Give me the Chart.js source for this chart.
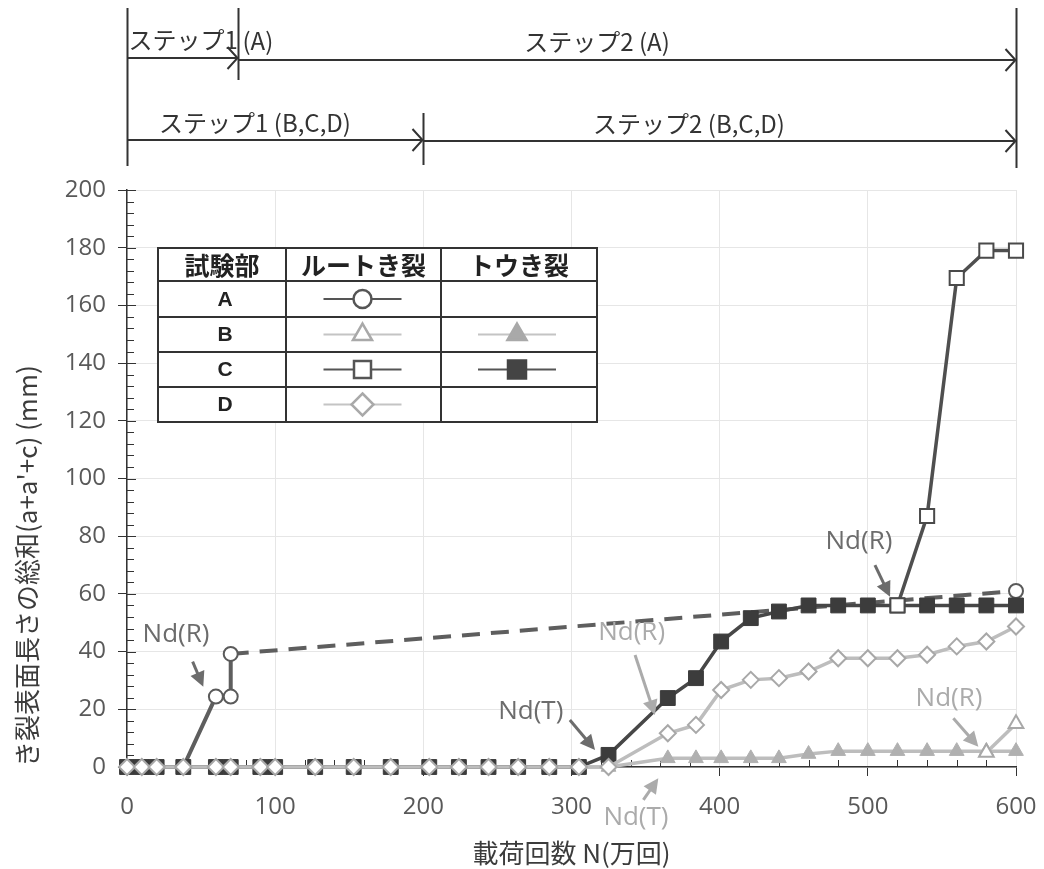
<!DOCTYPE html>
<html>
<head>
<meta charset="utf-8">
<script src="https://cdn.jsdelivr.net/npm/chart.js@4.4.1/dist/chart.umd.min.js"></script>
<style>
  html, body { margin: 0; padding: 0; background: #fff; }
  #c { display: block; }
</style>
</head>
<body>
<canvas id="c" width="1044" height="869"></canvas>
<script>
// ---- 測定データ (x: 載荷回数 N[万回], y: き裂表面長さの総和[mm]) ----
const xTickValues = [0, 100, 200, 300, 400, 500, 600];

// 試験部A ルートき裂 (70万回以降は破線で600万回へ)
const aRootN   = [0, 10, 20, 38, 60, 70, 70, 600];
const aRootLen = [0, 0, 0, 0, 24.4, 24.4, 39.2, 61];

// 試験部B ルートき裂
const bRootN   = [580, 600];
const bRootLen = [5, 15];

// 試験部B トウき裂
const bToeN   = [0, 10, 20, 38, 60, 70, 90, 100, 127, 153, 178, 204, 224, 244, 264, 285, 305, 325,
                 365, 384, 401, 421, 440, 460, 480, 500, 520, 540, 560, 580, 600];
const bToeLen = [0, 0, 0, 0, 0, 0, 0, 0, 0, 0, 0, 0, 0, 0, 0, 0, 0, 0,
                 3, 3, 3, 3, 3, 4.5, 5.5, 5.5, 5.5, 5.5, 5.5, 5.5, 5.5];

// 試験部C ルートき裂
const cRootN   = [520, 540, 560, 580, 600];
const cRootLen = [56, 87, 169.5, 179, 179];

// 試験部C トウき裂
const cToeN   = [0, 10, 20, 38, 60, 70, 90, 100, 127, 153, 178, 204, 224, 244, 264, 285, 305, 325,
                 365, 384, 401, 421, 440, 460, 480, 500, 520, 540, 560, 580, 600];
const cToeLen = [0, 0, 0, 0, 0, 0, 0, 0, 0, 0, 0, 0, 0, 0, 0, 0, 0, 4.2,
                 23.9, 30.8, 43.5, 51.6, 53.9, 56, 56, 56, 56, 56, 56, 56, 56];

// 試験部D ルートき裂
const dRootN   = [0, 10, 20, 38, 60, 70, 90, 100, 127, 153, 178, 204, 224, 244, 264, 285, 305, 325,
                  365, 384, 401, 421, 440, 460, 480, 500, 520, 540, 560, 580, 600];
const dRootLen = [0, 0, 0, 0, 0, 0, 0, 0, 0, 0, 0, 0, 0, 0, 0, 0, 0, 0,
                  11.7, 14.6, 26.7, 30.2, 30.8, 33.1, 37.7, 37.7, 37.7, 38.9, 41.8, 43.5, 48.7];

// ステップ区間 (万回)
const stepA   = [0, 75, 600];
const stepBCD = [0, 200, 600];

// Nd 注記 (文字位置・矢印始点・矢印先端をデータ座標で指定)
const ndNotes = [
  { text: 'Nd(R)', tone: 'dark',  at: [33.1, 45.8],  from: [44.3, 36.5],  to: [51.5, 27.8] },
  { text: 'Nd(R)', tone: 'dark',  at: [494, 78.1],   from: [504.8, 70],   to: [515, 59] },
  { text: 'Nd(R)', tone: 'light', at: [340.6, 46.6], from: [342.9, 38.8], to: [356.3, 18] },
  { text: 'Nd(T)', tone: 'dark',  at: [272.5, 19.2], from: [298.9, 16.3], to: [315.9, 5.9] },
  { text: 'Nd(T)', tone: 'light', at: [343.5, -17.7],from: [348.5, -11.4],to: [358.6, -3.9] },
  { text: 'Nd(R)', tone: 'light', at: [554.8, 23.8], from: [557.7, 16.9], to: [574.6, 7] }
];

const pts = (xs, ys) => xs.map((x, i) => ({ x: x, y: ys[i] }));

const DARK = '#4f4f4f';
const LIGHT = '#bdbdbd';
const JP = '"Noto Sans CJK JP", "Noto Sans", sans-serif';
const NUM = '"Open Sans", "Noto Sans", sans-serif';

// ---- 軸の補助目盛り ----
const minorTicks = {
  id: 'minorTicks',
  beforeDatasetsDraw(chart) {
    const { ctx, scales: { x, y } } = chart;
    ctx.save();
    ctx.strokeStyle = '#333';
    ctx.lineWidth = 1;
    ctx.beginPath();
    for (let v = 0; v <= 200; v += 4) {
      const py = Math.round(y.getPixelForValue(v)) + 0.5;
      const len = v % 20 === 0 ? 9 : 7;
      ctx.moveTo(x.left, py);
      ctx.lineTo(x.left + len, py);
    }
    for (let v = 20; v < 600; v += 20) {
      if (v % 100 === 0) continue;
      const px = Math.round(x.getPixelForValue(v)) + 0.5;
      ctx.moveTo(px, y.bottom);
      ctx.lineTo(px, y.bottom - 7);
    }
    ctx.stroke();
    ctx.restore();
  }
};

function arrowHead(ctx, x0, y0, x1, y1, len, half) {
  const a = Math.atan2(y1 - y0, x1 - x0);
  ctx.beginPath();
  ctx.moveTo(x1, y1);
  ctx.lineTo(x1 - len * Math.cos(a) + half * Math.sin(a), y1 - len * Math.sin(a) - half * Math.cos(a));
  ctx.lineTo(x1 - len * Math.cos(a) - half * Math.sin(a), y1 - len * Math.sin(a) + half * Math.cos(a));
  ctx.closePath();
  ctx.fill();
}

// ---- Nd 注記 ----
const ndAnnotations = {
  id: 'ndAnnotations',
  afterDraw(chart) {
    const { ctx, scales: { x, y } } = chart;
    ctx.save();
    ctx.font = '26px ' + NUM;
    ctx.textAlign = 'center';
    ctx.textBaseline = 'middle';
    ndNotes.forEach(n => {
      const col = n.tone === 'dark' ? '#6c6c6c' : '#ababab';
      ctx.fillStyle = col;
      ctx.strokeStyle = col;
      ctx.fillText(n.text, x.getPixelForValue(n.at[0]), y.getPixelForValue(n.at[1]));
      const x0 = x.getPixelForValue(n.from[0]), y0 = y.getPixelForValue(n.from[1]);
      const x1 = x.getPixelForValue(n.to[0]),   y1 = y.getPixelForValue(n.to[1]);
      const a = Math.atan2(y1 - y0, x1 - x0);
      ctx.lineWidth = 3;
      ctx.beginPath();
      ctx.moveTo(x0, y0);
      ctx.lineTo(x1 - 12 * Math.cos(a), y1 - 12 * Math.sin(a));
      ctx.stroke();
      arrowHead(ctx, x0, y0, x1, y1, 15, 7.5);
    });
    ctx.restore();
  }
};

// ---- 上部のステップ区間矢印 ----
function stepArrow(ctx, xa, xb, yy) {
  ctx.beginPath();
  ctx.moveTo(xa, yy);
  ctx.lineTo(xb, yy);
  ctx.moveTo(xb - 11, yy - 11);
  ctx.lineTo(xb - 1, yy);
  ctx.lineTo(xb - 11, yy + 11);
  ctx.stroke();
}

const stepBands = {
  id: 'stepBands',
  afterDraw(chart) {
    const { ctx, scales: { x } } = chart;
    const p = v => Math.round(x.getPixelForValue(v)) + 0.5;
    ctx.save();
    ctx.strokeStyle = '#333';
    ctx.lineWidth = 2;
    ctx.beginPath();
    ctx.moveTo(p(stepA[0]), 8);   ctx.lineTo(p(stepA[0]), 166);
    ctx.moveTo(p(stepA[1]), 8);   ctx.lineTo(p(stepA[1]), 80);
    ctx.moveTo(p(stepA[2]), 8);   ctx.lineTo(p(stepA[2]), 168);
    ctx.moveTo(p(stepBCD[1]), 113); ctx.lineTo(p(stepBCD[1]), 165);
    ctx.stroke();
    stepArrow(ctx, p(stepA[0]), p(stepA[1]), 58);
    stepArrow(ctx, p(stepA[1]), p(stepA[2]), 60);
    stepArrow(ctx, p(stepBCD[0]), p(stepBCD[1]), 140);
    stepArrow(ctx, p(stepBCD[1]), p(stepBCD[2]), 141);

    ctx.fillStyle = '#333';
    ctx.textBaseline = 'middle';
    ctx.font = '24px ' + JP;
    ctx.textAlign = 'left';
    ctx.fillText('ステップ1', p(stepA[0]) + 1, 40);
    ctx.fillText('(A)', p(stepA[1]) + 4, 41);
    ctx.textAlign = 'center';
    ctx.fillText('ステップ2 (A)', 597, 42);
    ctx.fillText('ステップ1 (B,C,D)', 255, 123);
    ctx.fillText('ステップ2 (B,C,D)', 689, 124);
    ctx.restore();
  }
};

// ---- 凡例 (表形式) ----
function marker(ctx, style, cx, cy, r, fill, stroke) {
  ctx.beginPath();
  if (style === 'circle') {
    ctx.arc(cx, cy, r, 0, Math.PI * 2);
  } else if (style === 'rect') {
    ctx.rect(cx - r, cy - r, 2 * r, 2 * r);
  } else if (style === 'triangle') {
    ctx.moveTo(cx, cy - r);
    ctx.lineTo(cx + r * 0.866, cy + r * 0.5);
    ctx.lineTo(cx - r * 0.866, cy + r * 0.5);
    ctx.closePath();
  } else if (style === 'diamond') {
    ctx.moveTo(cx, cy - r);
    ctx.lineTo(cx + r, cy);
    ctx.lineTo(cx, cy + r);
    ctx.lineTo(cx - r, cy);
    ctx.closePath();
  }
  ctx.fillStyle = fill;
  ctx.fill();
  ctx.lineWidth = 2.5;
  ctx.strokeStyle = stroke;
  ctx.stroke();
}

function sample(ctx, cx, cy, lineCol, style, r, fill, stroke) {
  ctx.strokeStyle = lineCol;
  ctx.lineWidth = 2;
  ctx.beginPath();
  ctx.moveTo(cx - 39, cy);
  ctx.lineTo(cx + 39, cy);
  ctx.stroke();
  marker(ctx, style, cx, cy, r, fill, stroke);
}

const tableLegend = {
  id: 'tableLegend',
  afterDraw(chart) {
    const ctx = chart.ctx;
    const L = 158, R = 597, T = 248, B = 422;
    const cols = [L, 286, 441, R];
    const rows = [T, 281, 317, 352, 387, B];
    ctx.save();
    ctx.fillStyle = '#fff';
    ctx.fillRect(L, T, R - L, B - T);
    ctx.strokeStyle = '#333';
    ctx.lineWidth = 2;
    ctx.strokeRect(L, T, R - L, B - T);
    ctx.beginPath();
    cols.slice(1, 3).forEach(c => { ctx.moveTo(c, T); ctx.lineTo(c, B); });
    rows.slice(1, 5).forEach(r => { ctx.moveTo(L, r); ctx.lineTo(R, r); });
    ctx.stroke();

    const mid = i => (rows[i] + rows[i + 1]) / 2;
    const cmid = j => (cols[j] + cols[j + 1]) / 2;
    ctx.fillStyle = '#222';
    ctx.textAlign = 'center';
    ctx.textBaseline = 'middle';
    ctx.font = 'bold 25px ' + JP;
    ctx.fillText('試験部', cmid(0), mid(0) + 1);
    ctx.fillText('ルートき裂', cmid(1), mid(0) + 1);
    ctx.fillText('トウき裂', cmid(2), mid(0) + 1);
    ctx.font = 'bold 21px "Liberation Sans", Arial, sans-serif';
    ['A', 'B', 'C', 'D'].forEach((s, i) => ctx.fillText(s, cmid(0) + 3, mid(i + 1) + 1));

    const c1 = cmid(1) - 1, c2 = cmid(2) - 2;
    sample(ctx, c1, mid(1), '#555', 'circle', 9, '#fff', '#555');
    sample(ctx, c1, mid(2), '#c4c4c4', 'triangle', 11, '#fff', '#a9a9a9');
    sample(ctx, c2, mid(2), '#c4c4c4', 'triangle', 11, '#a9a9a9', '#a9a9a9');
    sample(ctx, c1, mid(3), '#555', 'rect', 8.5, '#fff', '#555');
    sample(ctx, c2, mid(3), '#555', 'rect', 9, '#444', '#444');
    sample(ctx, c1, mid(4), '#c4c4c4', 'diamond', 11, '#fff', '#a9a9a9');
    ctx.restore();
  }
};

const lastA = aRootN.length - 1;

new Chart(document.getElementById('c'), {
  type: 'line',
  data: {
    datasets: [
      { label: 'D ルートき裂', data: pts(dRootN, dRootLen), order: 0,
        borderColor: LIGHT, borderWidth: 3.5,
        pointStyle: 'rectRot', pointRadius: 8, pointBorderWidth: 2,
        pointBorderColor: '#a8a8a8', pointBackgroundColor: '#fff' },
      { label: 'B ルートき裂', data: pts(bRootN, bRootLen), order: 1,
        borderColor: LIGHT, borderWidth: 3.5,
        pointStyle: 'triangle', pointRadius: 8.5, pointBorderWidth: 2,
        pointBorderColor: '#a8a8a8', pointBackgroundColor: '#fff' },
      { label: 'C ルートき裂', data: pts(cRootN, cRootLen), order: 2,
        borderColor: DARK, borderWidth: 3.5,
        pointStyle: 'rect', pointRadius: 10, pointBorderWidth: 2,
        pointBorderColor: '#4a4a4a', pointBackgroundColor: '#fff' },
      { label: 'C トウき裂', data: pts(cToeN, cToeLen), order: 3,
        borderColor: '#474747', borderWidth: 3.5,
        pointStyle: 'rect', pointRadius: 10.5, pointBorderWidth: 1,
        pointBorderColor: '#3c3c3c', pointBackgroundColor: '#3c3c3c' },
      { label: 'B トウき裂', data: pts(bToeN, bToeLen), order: 4,
        borderColor: LIGHT, borderWidth: 3.5,
        pointStyle: 'triangle', pointRadius: 8.5, pointBorderWidth: 1,
        pointBorderColor: '#b0b0b0', pointBackgroundColor: '#b0b0b0' },
      { label: 'A ルートき裂', data: pts(aRootN, aRootLen), order: 5,
        borderColor: '#5e5e5e', borderWidth: 4,
        pointStyle: 'circle', pointRadius: 7, pointBorderWidth: 2,
        pointBorderColor: '#5a5a5a', pointBackgroundColor: '#fff',
        segment: { borderDash: c => c.p1DataIndex === lastA ? [18, 11] : undefined } }
    ].map(d => Object.assign({ tension: 0, fill: false, clip: false, pointHoverRadius: d.pointRadius }, d))
  },
  options: {
    responsive: false,
    animation: false,
    devicePixelRatio: 1,
    events: [],
    layout: { padding: { top: 190, right: 28, left: 0, bottom: 0 } },
    plugins: { legend: { display: false }, tooltip: { enabled: false } },
    scales: {
      x: {
        type: 'linear', min: 0, max: 600,
        afterBuildTicks: s => { s.ticks = xTickValues.map(v => ({ value: v })); },
        afterFit: s => { s.height = 102; s.paddingLeft = 0; s.paddingRight = 0; },
        ticks: { font: { family: NUM, size: 24 }, color: '#595959', padding: 17, maxRotation: 0 },
        grid: { color: '#e6e6e6', lineWidth: 1, tickLength: 9, tickColor: '#333' },
        border: { color: '#333', width: 1.5 },
        title: { display: true, text: '載荷回数 N(万回)', color: '#3c3c3c',
                 font: { family: JP, size: 26 }, padding: { top: 0, bottom: 0 } }
      },
      y: {
        min: 0, max: 200,
        afterFit: s => { s.width = 127; },
        ticks: { stepSize: 20, font: { family: NUM, size: 24 }, color: '#595959', padding: 12 },
        grid: { color: '#e6e6e6', lineWidth: 1, tickLength: 9, tickColor: '#333' },
        border: { color: '#333', width: 1.5 },
        title: { display: true, text: "き裂表面長さの総和(a+a'+c) (mm)", align: 'start', color: '#3c3c3c',
                 font: { family: JP, size: 26 }, padding: { top: 12, bottom: 0 } }
      }
    }
  },
  plugins: [minorTicks, ndAnnotations, stepBands, tableLegend]
});
</script>
</body>
</html>
